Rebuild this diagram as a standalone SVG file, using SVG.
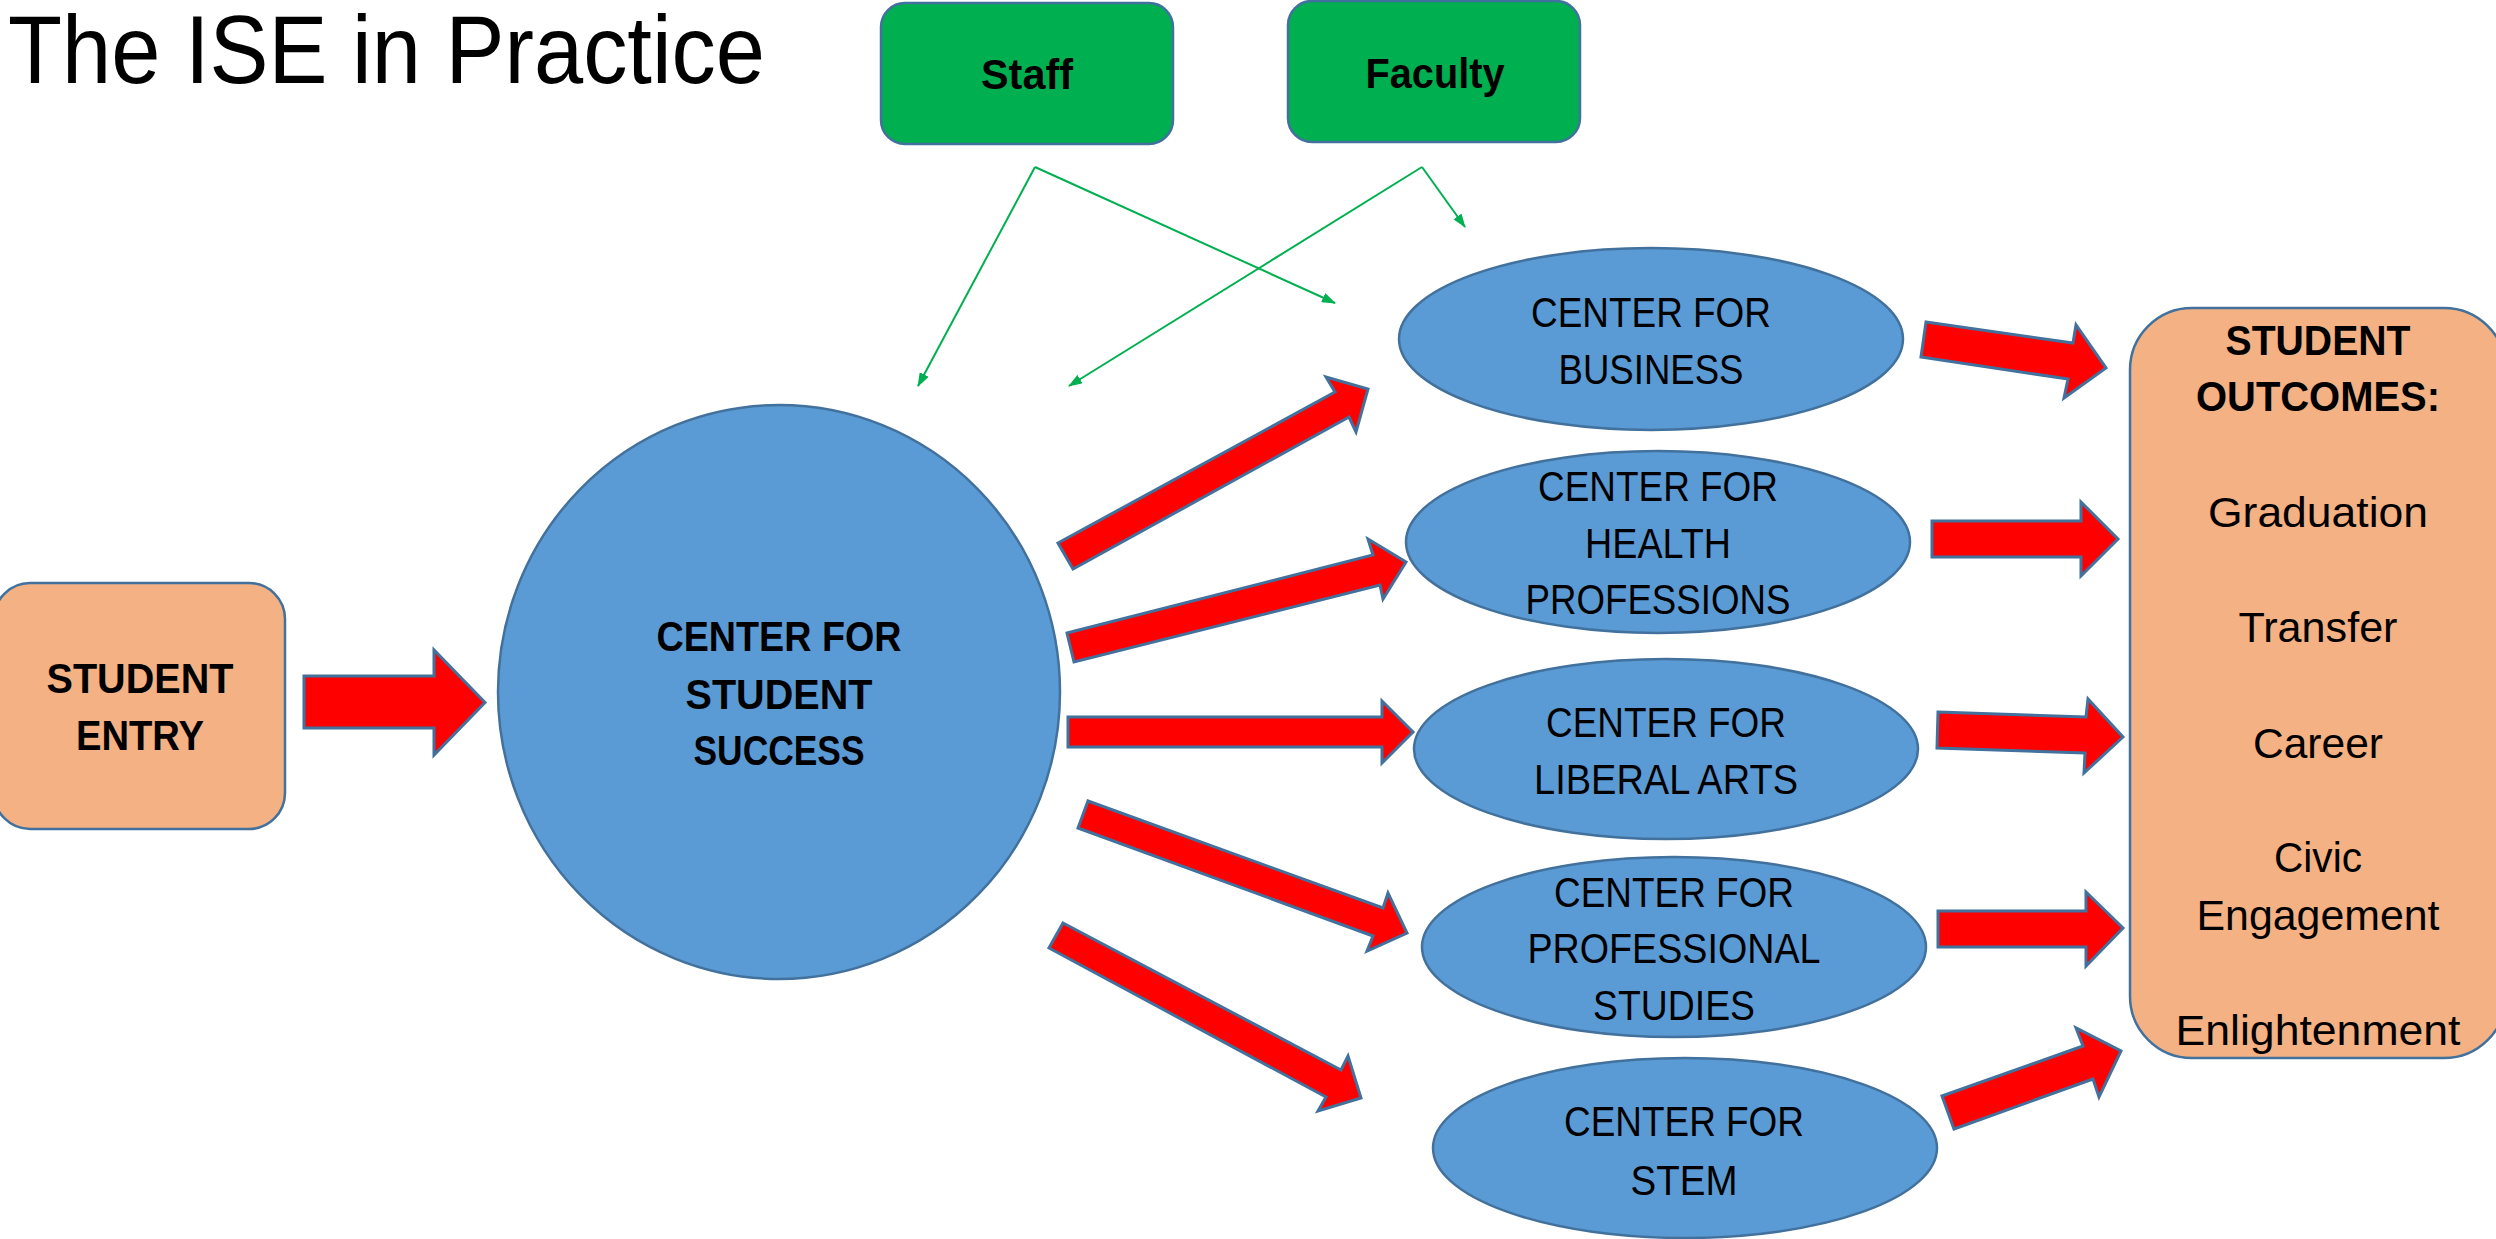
<svg xmlns="http://www.w3.org/2000/svg" width="2496" height="1239" viewBox="0 0 2496 1239">
<defs>
<marker id="gh" viewBox="0 0 14 10" refX="13" refY="5" markerWidth="14" markerHeight="10" markerUnits="userSpaceOnUse" orient="auto">
<path d="M0,0 L14,5 L0,10 Z" fill="#00B050"/>
</marker>
<style>
.t{font-family:"Liberation Sans",Arial,sans-serif;font-size:42px;fill:#000;text-anchor:middle}
.b{font-weight:bold}
.ell{fill:#5B9BD5;stroke:#41719C;stroke-width:2.5}
.org{fill:#F4B183;stroke:#41719C;stroke-width:2.5}
.grn{fill:#00B050;stroke:#41719C;stroke-width:2.5}
.arr{fill:#FF0000;stroke:#41719C;stroke-width:3;stroke-linejoin:miter}
.gl{stroke:#00B050;stroke-width:2;fill:none;marker-end:url(#gh)}
</style>
</defs>
<rect width="2496" height="1239" fill="#FFFFFF"/>
<text x="8" y="83" font-family="Liberation Sans, Arial, sans-serif" font-size="96" textLength="757" lengthAdjust="spacingAndGlyphs">The ISE in Practice</text>

<g id="staff">
<rect class="grn" x="881" y="3" width="292" height="141" rx="24"/>
<text class="t b" x="1027" y="89" textLength="92" lengthAdjust="spacingAndGlyphs">Staff</text>
</g>
<g id="faculty">
<rect class="grn" x="1288" y="1" width="292" height="141" rx="24"/>
<text class="t b" x="1435" y="88" textLength="139" lengthAdjust="spacingAndGlyphs">Faculty</text>
</g>

<g id="student-entry">
<rect class="org" x="-6" y="583" width="291" height="246" rx="36"/>
<text class="t b" x="140" y="693" textLength="187" lengthAdjust="spacingAndGlyphs">STUDENT</text>
<text class="t b" x="140" y="750" textLength="128" lengthAdjust="spacingAndGlyphs">ENTRY</text>
</g>

<g id="center-student-success">
<ellipse class="ell" cx="779" cy="692" rx="281" ry="287"/>
<text class="t b" x="779" y="651" textLength="245" lengthAdjust="spacingAndGlyphs">CENTER FOR</text>
<text class="t b" x="779" y="709" textLength="187" lengthAdjust="spacingAndGlyphs">STUDENT</text>
<text class="t b" x="779" y="765" textLength="171" lengthAdjust="spacingAndGlyphs">SUCCESS</text>
</g>

<g id="center-business">
<ellipse class="ell" cx="1651" cy="339" rx="252" ry="91"/>
<text class="t" x="1651" y="327" textLength="240" lengthAdjust="spacingAndGlyphs">CENTER FOR</text>
<text class="t" x="1651" y="384" textLength="185" lengthAdjust="spacingAndGlyphs">BUSINESS</text>
</g>
<g id="center-health">
<ellipse class="ell" cx="1658" cy="542" rx="252" ry="91"/>
<text class="t" x="1658" y="501" textLength="240" lengthAdjust="spacingAndGlyphs">CENTER FOR</text>
<text class="t" x="1658" y="558" textLength="146" lengthAdjust="spacingAndGlyphs">HEALTH</text>
<text class="t" x="1658" y="614" textLength="265" lengthAdjust="spacingAndGlyphs">PROFESSIONS</text>
</g>
<g id="center-liberal-arts">
<ellipse class="ell" cx="1666" cy="749" rx="252" ry="90"/>
<text class="t" x="1666" y="737" textLength="240" lengthAdjust="spacingAndGlyphs">CENTER FOR</text>
<text class="t" x="1666" y="794" textLength="264" lengthAdjust="spacingAndGlyphs">LIBERAL ARTS</text>
</g>
<g id="center-professional">
<ellipse class="ell" cx="1674" cy="947" rx="252" ry="90"/>
<text class="t" x="1674" y="907" textLength="240" lengthAdjust="spacingAndGlyphs">CENTER FOR</text>
<text class="t" x="1674" y="963" textLength="293" lengthAdjust="spacingAndGlyphs">PROFESSIONAL</text>
<text class="t" x="1674" y="1020" textLength="162" lengthAdjust="spacingAndGlyphs">STUDIES</text>
</g>
<g id="center-stem">
<ellipse class="ell" cx="1685" cy="1148" rx="252" ry="90"/>
<text class="t" x="1684" y="1136" textLength="240" lengthAdjust="spacingAndGlyphs">CENTER FOR</text>
<text class="t" x="1684" y="1195" textLength="107" lengthAdjust="spacingAndGlyphs">STEM</text>
</g>

<g id="student-outcomes">
<rect class="org" x="2130" y="308" width="376" height="750" rx="62"/>
<text class="t b" x="2318" y="355" textLength="185" lengthAdjust="spacingAndGlyphs">STUDENT</text>
<text class="t b" x="2318" y="411" textLength="244" lengthAdjust="spacingAndGlyphs">OUTCOMES:</text>
<text class="t" x="2318" y="527" textLength="220" lengthAdjust="spacingAndGlyphs">Graduation</text>
<text class="t" x="2318" y="642" textLength="159" lengthAdjust="spacingAndGlyphs">Transfer</text>
<text class="t" x="2318" y="758" textLength="130" lengthAdjust="spacingAndGlyphs">Career</text>
<text class="t" x="2318" y="872" textLength="88" lengthAdjust="spacingAndGlyphs">Civic</text>
<text class="t" x="2318" y="930" textLength="243" lengthAdjust="spacingAndGlyphs">Engagement</text>
<text class="t" x="2318" y="1045" textLength="285" lengthAdjust="spacingAndGlyphs">Enlightenment</text>
</g>

<g id="connectors">
<line class="gl" x1="1035" y1="167" x2="918" y2="386"/>
<line class="gl" x1="1035" y1="167" x2="1335" y2="303"/>
<line class="gl" x1="1422" y1="167" x2="1069" y2="386"/>
<line class="gl" x1="1422" y1="167" x2="1465" y2="227"/>

<polygon class="arr" points="304,676 434,676 434,650 485,702.5 434,755 434,728 304,728"/>

<polygon class="arr" points="1058,543 1335,392 1326,377 1368,389 1356,432 1349,417 1073,569"/>
<polygon class="arr" points="1067,633 1373,555 1368,539 1406,562 1383,599 1380,585 1074,662"/>
<polygon class="arr" points="1068,717 1382,717 1382,701 1413,732 1382,763 1382,747 1068,747"/>
<polygon class="arr" points="1088,801 1383,908 1388,893 1407,933 1367,951 1373,936 1078,828"/>
<polygon class="arr" points="1063,923 1341,1070 1348,1056 1361,1098 1318,1111 1326,1097 1049,948"/>

<polygon class="arr" points="1926,322 2073,343 2076,325 2106,368 2064,398 2068,379 1921,357"/>
<polygon class="arr" points="1932,521 2081,521 2081,502 2118,539 2081,576 2081,557 1932,557"/>
<polygon class="arr" points="1938,712 2086,717 2088,699 2123,737 2084,773 2085,753 1937,748"/>
<polygon class="arr" points="1938,911 2086,911 2086,892 2123,928 2086,966 2086,947 1938,947"/>
<polygon class="arr" points="1942,1096 2083,1046 2076,1028 2121,1051 2099,1097 2093,1079 1954,1129"/>
</g>
</svg>
